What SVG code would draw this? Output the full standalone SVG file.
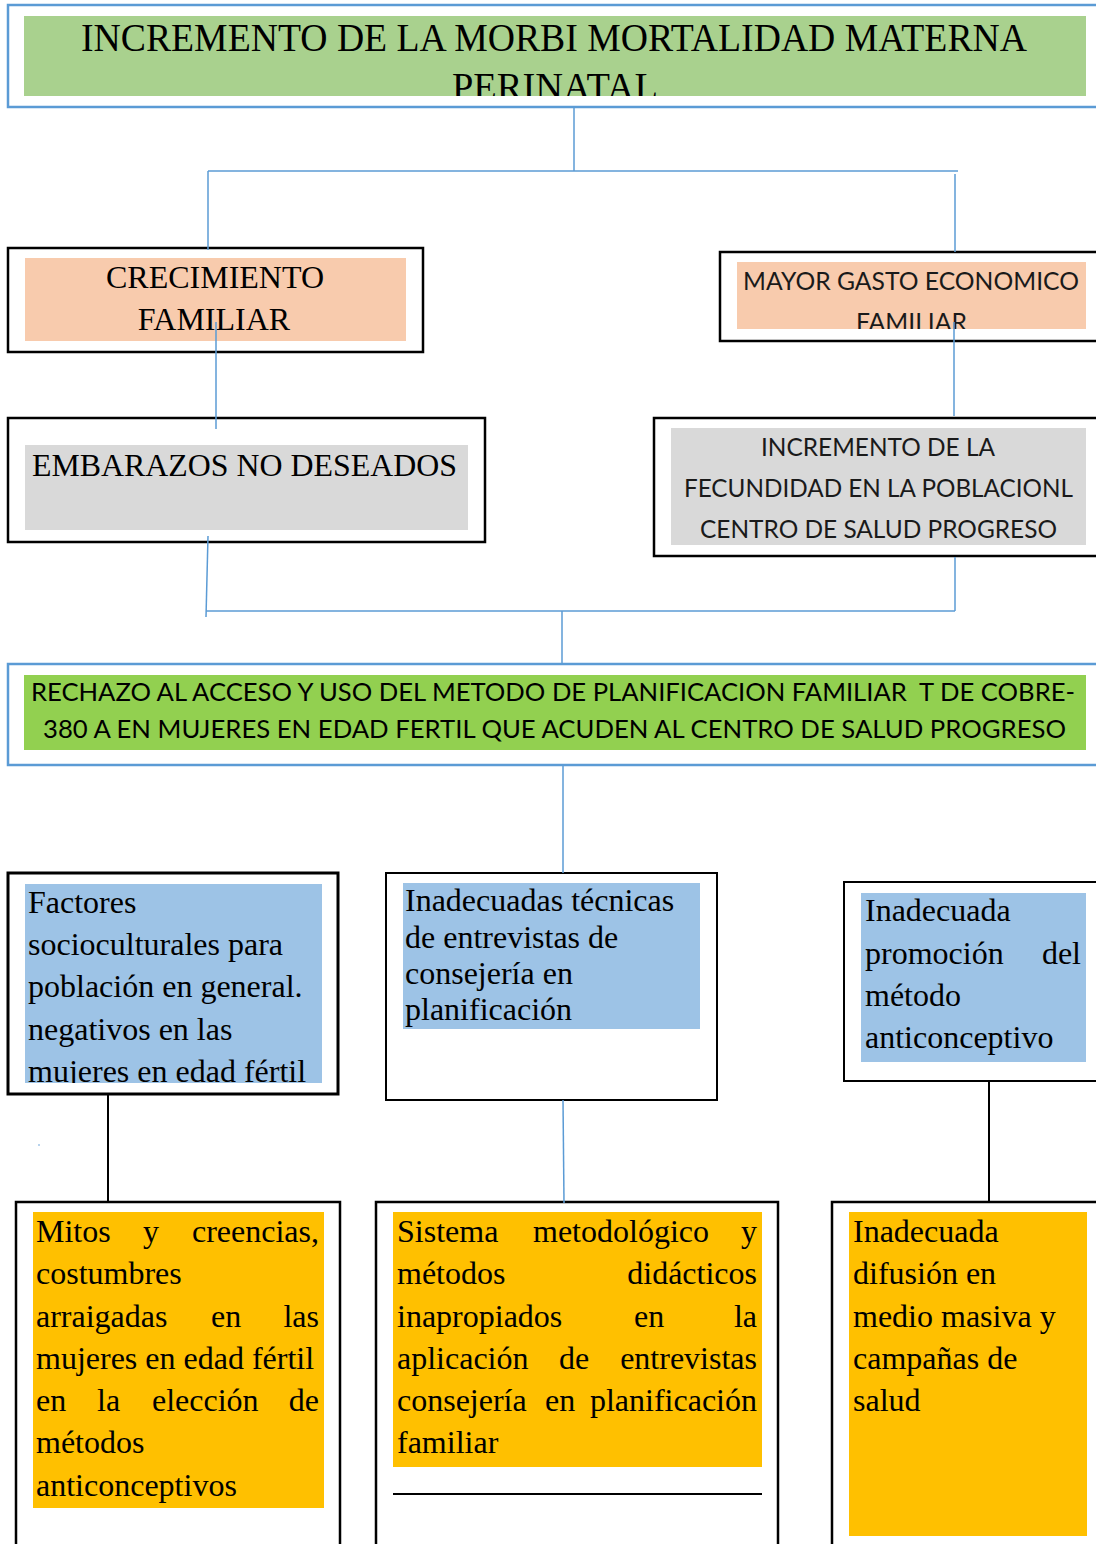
<svg xmlns="http://www.w3.org/2000/svg" width="1096" height="1544" viewBox="0 0 1096 1544">
<style>
.bb{fill:#fff;stroke:#000;stroke-width:2.5}
.bl{fill:#fff;stroke:#5b9bd5;stroke-width:2.5}
.se{font-family:"Liberation Serif","Times New Roman",serif;font-size:32px;fill:#000}
.sa{font-family:Lato,"Liberation Sans",sans-serif;fill:#1a1a1a}
.cb{stroke:#5b9bd5;stroke-width:1.5;fill:none}
.ck{stroke:#000;stroke-width:2;fill:none}
</style>
<defs>
<clipPath id="cTitle"><rect x="24" y="16" width="1062" height="80"/></clipPath>
<clipPath id="cGasto"><rect x="737" y="262" width="349" height="67"/></clipPath>
<clipPath id="cA"><rect x="25" y="884" width="297" height="199"/></clipPath>
</defs>
<rect width="1096" height="1544" fill="#fff"/>

<g id="n-title">
<rect class="bl" x="8" y="5" width="1100" height="102"/>
<rect x="24" y="16" width="1062" height="80" fill="#a9d18e"/>
<g clip-path="url(#cTitle)">
<text class="se" style="font-size:40px" x="81" y="51" textLength="946" lengthAdjust="spacingAndGlyphs">INCREMENTO DE LA MORBI MORTALIDAD MATERNA</text>
<text class="se" style="font-size:40px" x="452" y="100" textLength="206" lengthAdjust="spacingAndGlyphs">PERINATAL</text>
</g>
</g>

<g id="n-crecimiento">
<rect class="bb" x="8" y="248" width="415" height="104"/>
<rect x="25" y="258" width="381" height="83" fill="#f8cbad"/>
<text class="se" x="215" y="288" text-anchor="middle">CRECIMIENTO</text>
<text class="se" x="214" y="330" text-anchor="middle">FAMILIAR</text>
</g>

<g id="n-gasto">
<rect class="bb" x="720" y="252" width="390" height="89"/>
<rect x="737" y="262" width="349" height="67" fill="#f8cbad"/>
<g clip-path="url(#cGasto)">
<text class="sa" style="font-size:25px" x="743" y="290" textLength="336" lengthAdjust="spacingAndGlyphs">MAYOR GASTO ECONOMICO</text>
<text class="sa" style="font-size:25px" x="856" y="331" textLength="111" lengthAdjust="spacingAndGlyphs">FAMILIAR</text>
</g>
</g>

<g id="n-embarazos">
<rect class="bb" x="8" y="418" width="477" height="124"/>
<rect x="25" y="445" width="443" height="85" fill="#d9d9d9"/>
<text class="se" x="32" y="476" textLength="425" lengthAdjust="spacingAndGlyphs">EMBARAZOS NO DESEADOS</text>
</g>

<g id="n-fecundidad">
<rect class="bb" x="654" y="418" width="456" height="138"/>
<rect x="671" y="428" width="415" height="117" fill="#d9d9d9"/>
<text class="sa" style="font-size:25px" x="761" y="456" textLength="234" lengthAdjust="spacingAndGlyphs">INCREMENTO DE LA</text>
<text class="sa" style="font-size:25px" x="684" y="497" textLength="389" lengthAdjust="spacingAndGlyphs">FECUNDIDAD EN LA POBLACIONL</text>
<text class="sa" style="font-size:25px" x="700" y="538" textLength="357" lengthAdjust="spacingAndGlyphs">CENTRO DE SALUD PROGRESO</text>
</g>

<g id="n-rechazo">
<rect class="bl" x="8" y="664" width="1100" height="101"/>
<rect x="24" y="675" width="1062" height="75" fill="#92d050"/>
<text class="sa" style="font-size:25px;fill:#000" x="31" y="701" xml:space="preserve" textLength="1044" lengthAdjust="spacingAndGlyphs">RECHAZO AL ACCESO Y USO DEL METODO DE PLANIFICACION FAMILIAR  T DE COBRE-</text>
<text class="sa" style="font-size:25px;fill:#000" x="43" y="738" textLength="1023" lengthAdjust="spacingAndGlyphs">380 A EN MUJERES EN EDAD FERTIL QUE ACUDEN AL CENTRO DE SALUD PROGRESO</text>
</g>

<g id="n-factores">
<rect class="bb" x="8" y="873" width="330" height="221" style="stroke-width:3"/>
<rect x="25" y="884" width="297" height="199" fill="#9dc3e6"/>
<g clip-path="url(#cA)">
<text class="se" x="28" y="913">Factores</text>
<text class="se" x="28" y="955">socioculturales para</text>
<text class="se" x="28" y="997">población en general.</text>
<text class="se" x="28" y="1040">negativos en las</text>
<text class="se" x="28" y="1082">mujeres en edad fértil</text>
</g>
</g>

<g id="n-tecnicas">
<rect class="bb" x="386" y="873" width="331" height="227" style="stroke-width:2"/>
<rect x="403" y="883" width="297" height="146" fill="#9dc3e6"/>
<text class="se" x="405" y="911">Inadecuadas técnicas</text>
<text class="se" x="405" y="948">de entrevistas de</text>
<text class="se" x="405" y="984">consejería en</text>
<text class="se" x="405" y="1020">planificación</text>
</g>

<g id="n-promocion">
<rect class="bb" x="844" y="882" width="266" height="199" style="stroke-width:2"/>
<rect x="861" y="893" width="225" height="169" fill="#9dc3e6"/>
<text class="se" x="865" y="921">Inadecuada</text>
<text class="se" x="865" y="964">promoción</text>
<text class="se" x="1081" y="964" text-anchor="end">del</text>
<text class="se" x="865" y="1006">método</text>
<text class="se" x="865" y="1048">anticonceptivo</text>
</g>

<g id="n-mitos">
<rect class="bb" x="16" y="1202" width="324" height="360"/>
<rect x="33" y="1212" width="291" height="296" fill="#ffc000"/>
<text class="se" x="36" y="1242">Mitos</text>
<text class="se" x="143" y="1242">y</text>
<text class="se" x="319" y="1242" text-anchor="end">creencias,</text>
<text class="se" x="36" y="1284">costumbres</text>
<text class="se" x="36" y="1327">arraigadas</text>
<text class="se" x="211" y="1327">en</text>
<text class="se" x="319" y="1327" text-anchor="end">las</text>
<text class="se" x="36" y="1369">mujeres en edad fértil</text>
<text class="se" x="36" y="1411">en</text>
<text class="se" x="97" y="1411">la</text>
<text class="se" x="152" y="1411">elección</text>
<text class="se" x="319" y="1411" text-anchor="end">de</text>
<text class="se" x="36" y="1453">métodos</text>
<text class="se" x="36" y="1496">anticonceptivos</text>
</g>

<g id="n-sistema">
<rect class="bb" x="376" y="1202" width="402" height="360"/>
<rect x="393" y="1212" width="369" height="255" fill="#ffc000"/>
<text class="se" x="397" y="1242">Sistema</text>
<text class="se" x="533" y="1242">metodológico</text>
<text class="se" x="757" y="1242" text-anchor="end">y</text>
<text class="se" x="397" y="1284">métodos</text>
<text class="se" x="757" y="1284" text-anchor="end">didácticos</text>
<text class="se" x="397" y="1327">inapropiados</text>
<text class="se" x="634" y="1327">en</text>
<text class="se" x="757" y="1327" text-anchor="end">la</text>
<text class="se" x="397" y="1369">aplicación</text>
<text class="se" x="559" y="1369">de</text>
<text class="se" x="757" y="1369" text-anchor="end">entrevistas</text>
<text class="se" x="397" y="1411">consejería</text>
<text class="se" x="545" y="1411">en</text>
<text class="se" x="757" y="1411" text-anchor="end">planificación</text>
<text class="se" x="397" y="1453">familiar</text>
<line x1="393" y1="1494" x2="762" y2="1494" stroke="#000" stroke-width="2"/>
</g>

<g id="n-difusion">
<rect class="bb" x="832" y="1202" width="280" height="360"/>
<rect x="849" y="1212" width="238" height="324" fill="#ffc000"/>
<text class="se" x="853" y="1242">Inadecuada</text>
<text class="se" x="853" y="1284">difusión en</text>
<text class="se" x="853" y="1327">medio masiva y</text>
<text class="se" x="853" y="1369">campañas de</text>
<text class="se" x="853" y="1411">salud</text>
</g>

<g id="connectors">
<line class="cb" x1="574" y1="107" x2="574" y2="171"/>
<line class="cb" x1="208" y1="171" x2="958" y2="171"/>
<line class="cb" x1="208" y1="171" x2="208" y2="250"/>
<line class="cb" x1="955" y1="174" x2="955" y2="252"/>
<line class="cb" x1="216" y1="322" x2="216" y2="429"/>
<line class="cb" x1="954" y1="322" x2="954" y2="416"/>
<line class="cb" x1="208" y1="536" x2="206" y2="617"/>
<line class="cb" x1="955" y1="557" x2="955" y2="611"/>
<line class="cb" x1="206" y1="611" x2="955" y2="611"/>
<line class="cb" x1="562" y1="611" x2="562" y2="663"/>
<line class="cb" x1="563" y1="765" x2="563" y2="873"/>
<line class="ck" x1="108" y1="1095" x2="108" y2="1202"/>
<line class="cb" x1="563" y1="1100" x2="564" y2="1203"/>
<line class="ck" x1="989" y1="1081" x2="989" y2="1202"/>
<circle cx="39" cy="1145" r="0.8" fill="#5b9bd5"/>
</g>
</svg>
